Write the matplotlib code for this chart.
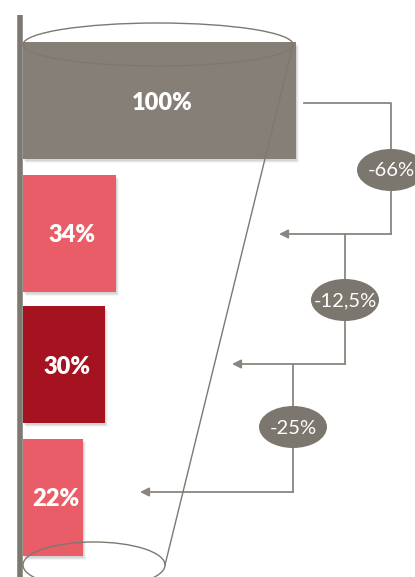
import matplotlib.pyplot as plt
from matplotlib.patches import Ellipse

# data
labels = ['100%', '34%', '30%', '22%']
values = [100, 34, 30, 22]
changes = ['-66%', '-12,5%', '-25%']
colors = ['#857f78', '#e85d67', '#a51220', '#e85d67']

plt.rcParams['font.family'] = ['Lato', 'DejaVu Sans']

W, H = 415, 577
fig = plt.figure(figsize=(W / 100, H / 100), dpi=100)
ax = fig.add_axes([0, 0, 1, 1])
ax.set_xlim(0, W)
ax.set_ylim(H, 0)
ax.axis('off')

gray = '#7d7870'
x0 = 23
scale = 2.73          # px per percent
ys = [100.5, 233, 364.5, 497]
bh = 117

# soft shadow under the bars
for d, a in [(4, 0.04), (3, 0.06), (2, 0.07)]:
    ax.barh([y + d for y in ys], [v * scale for v in values], height=bh,
            left=x0 + d - 1, color='black', alpha=a, zorder=1)

ax.barh(ys, [v * scale for v in values], height=bh, left=x0,
        color=colors, zorder=2)

for y, v, lab in zip(ys, values, labels):
    ax.text(x0 + v * scale / 2 + 3, y + 2, lab, color='white', fontsize=17,
            fontweight='heavy', ha='center', va='center', zorder=6)

# left axis line
ax.plot([20, 20], [15, H], color=gray, lw=4, solid_capstyle='butt', zorder=3)

# funnel outline
ax.add_patch(Ellipse((158, 44.5), 270, 43, fill=False, ec=gray, lw=1, zorder=4))
ax.add_patch(Ellipse((94, 565), 142, 46, fill=False, ec=gray, lw=1, zorder=4))
ax.plot([293, 165], [45, 565], color=gray, lw=1, zorder=4)

# connectors
lc = '#8a857e'
vx = [391, 345, 293]
tips = [279, 232, 140]
starts = [(304, 103), (345, 234), (293, 364)]
ends = [234, 364, 492]
label_y = [170, 300, 427]

for i, ch in enumerate(changes):
    sx, sy = starts[i]
    ax.plot([sx, vx[i], vx[i]], [sy, sy, ends[i]], color=lc, lw=1.3, zorder=3)
    ax.annotate('', xy=(tips[i], ends[i]), xytext=(vx[i], ends[i]),
                arrowprops=dict(arrowstyle='-|>', color=lc, lw=1.3,
                                mutation_scale=13, shrinkA=0, shrinkB=0),
                zorder=3)
    ax.add_patch(Ellipse((vx[i], label_y[i]), 68, 42, fc='#7b766e',
                         ec='none', zorder=5))
    ax.text(vx[i], label_y[i] + 1, ch, color='white', fontsize=14.5,
            ha='center', va='center', zorder=6)

fig.savefig('out.png', dpi=100)
